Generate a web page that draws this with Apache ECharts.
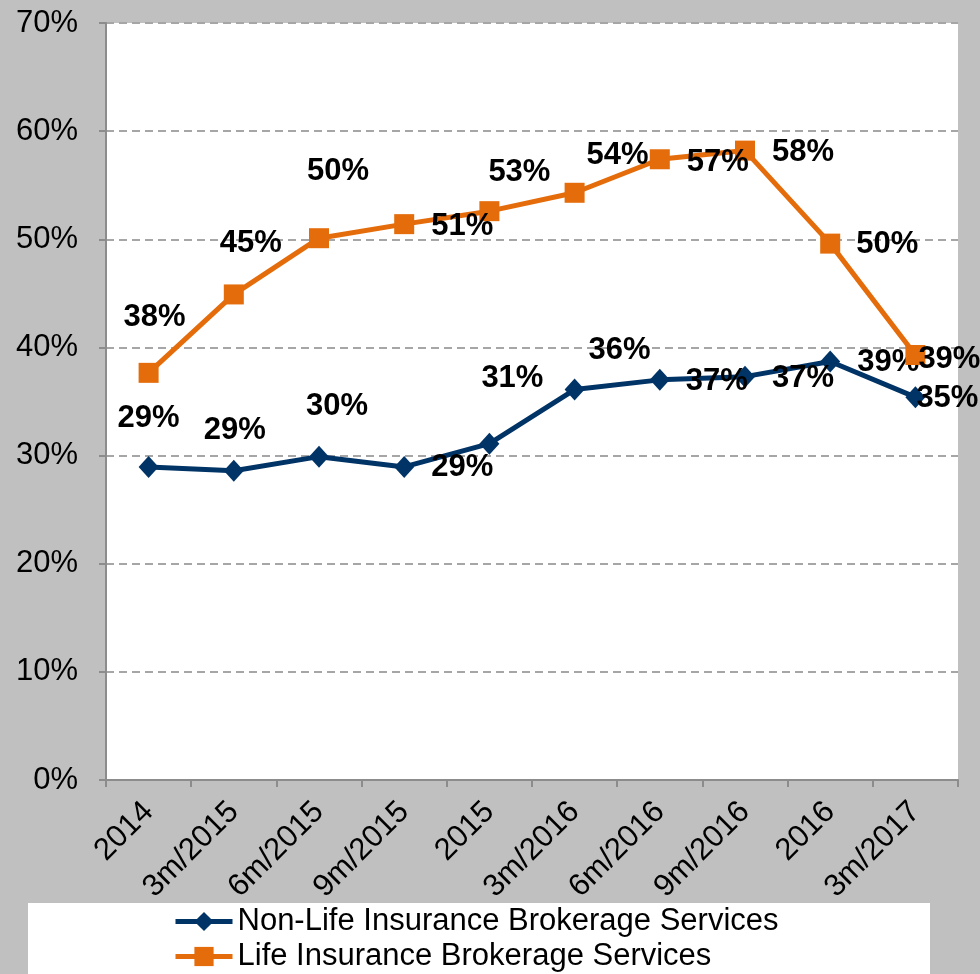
<!DOCTYPE html>
<html>
<head>
<meta charset="utf-8">
<script src="https://cdn.jsdelivr.net/npm/echarts@6/dist/echarts.min.js"></script>
<style>
  html, body { margin: 0; padding: 0; background: #c0c0c0; }
  #chart { width: 980px; height: 974px; }
</style>
</head>
<body>
<div id="chart"></div>
<script>
// categories and values (percent)
const periods = ['2014', '3m/2015', '6m/2015', '9m/2015', '2015', '3m/2016', '6m/2016', '9m/2016', '2016', '3m/2017'];
const nonLifeShare = [28.95, 28.6, 29.9, 28.95, 31.1, 36.1, 37.0, 37.3, 38.7, 35.4];
const lifeShare = [37.65, 44.9, 50.1, 51.4, 52.6, 54.3, 57.4, 58.2, 49.6, 39.3];
const yTicks = [0, 10, 20, 30, 40, 50, 60, 70];

// label placement (offset of label centre from the marker), like the Excel chart
const nonLifeLabelOffset = [[0, -48], [1, -40], [18, -50], [58, 1], [23, -65], [45, -39], [57, 2], [58, 2], [58, 1], [32, 1]];
const lifeLabelOffset = [[6, -55], [17, -51], [19, -67], [58, 2], [30, -39], [43, -37], [58, 3], [58, 2], [57, 1], [34, 4]];

const navy = '#003366';
const orange = '#e46c0a';
const fontFamily = 'Liberation Sans, Arial, sans-serif';

function withLabels(values, offsets) {
  return values.map((v, i) => ({
    value: v,
    label: {offset: offsets[i]}
  }));
}

const labelStyle = {
  show: true,
  position: 'inside',
  color: '#000',
  fontSize: 31,
  fontWeight: 'bold',
  fontFamily: fontFamily,
  formatter: (p) => Math.round(p.value) + '%'
};

const chart = echarts.init(document.getElementById('chart'));
chart.setOption({
  animation: false,
  backgroundColor: '#c0c0c0',
  graphic: [
    {
      type: 'rect',
      shape: {x: 28, y: 903, width: 902, height: 80},
      style: {fill: '#ffffff'},
      z: -1
    }
  ],
  grid: {
    left: 106,
    right: 22,
    top: 23,
    bottom: 194,
    show: true,
    backgroundColor: '#ffffff',
    borderWidth: 0
  },
  legend: {
    orient: 'vertical',
    left: 173,
    top: 906,
    padding: 0,
    itemWidth: 57,
    itemHeight: 24,
    itemGap: 4,
    lineStyle: {width: 5},
    textStyle: {color: '#000', fontSize: 31, lineHeight: 31, fontFamily: fontFamily},
    data: ['Non-Life Insurance Brokerage Services', 'Life Insurance Brokerage Services']
  },
  xAxis: {
    type: 'category',
    data: periods,
    boundaryGap: true,
    axisLine: {lineStyle: {color: '#8c8c8c', width: 2}},
    axisTick: {show: true, length: 7, lineStyle: {color: '#8c8c8c', width: 2}},
    axisLabel: {
      rotate: 45,
      margin: 27,
      color: '#000',
      fontSize: 31,
      fontFamily: fontFamily,
      interval: 0
    }
  },
  yAxis: {
    type: 'value',
    min: yTicks[0],
    max: yTicks[yTicks.length - 1],
    interval: 10,
    axisLine: {show: true, lineStyle: {color: '#8c8c8c', width: 2}},
    axisTick: {show: true, length: 7, lineStyle: {color: '#8c8c8c', width: 2}},
    axisLabel: {
      margin: 28,
      color: '#000',
      fontSize: 31,
      fontFamily: fontFamily,
      formatter: '{value}%'
    },
    splitLine: {show: true, lineStyle: {color: '#a6a6a6', width: 2, type: [8, 5]}}
  },
  series: [
    {
      name: 'Non-Life Insurance Brokerage Services',
      type: 'line',
      data: withLabels(nonLifeShare, nonLifeLabelOffset),
      symbol: 'diamond',
      symbolSize: [20, 22],
      itemStyle: {color: navy},
      lineStyle: {color: navy, width: 5},
      label: labelStyle,
      z: 3
    },
    {
      name: 'Life Insurance Brokerage Services',
      type: 'line',
      data: withLabels(lifeShare, lifeLabelOffset),
      symbol: 'rect',
      symbolSize: 20,
      itemStyle: {color: orange},
      lineStyle: {color: orange, width: 5},
      label: labelStyle,
      z: 4
    }
  ]
});
</script>
</body>
</html>
